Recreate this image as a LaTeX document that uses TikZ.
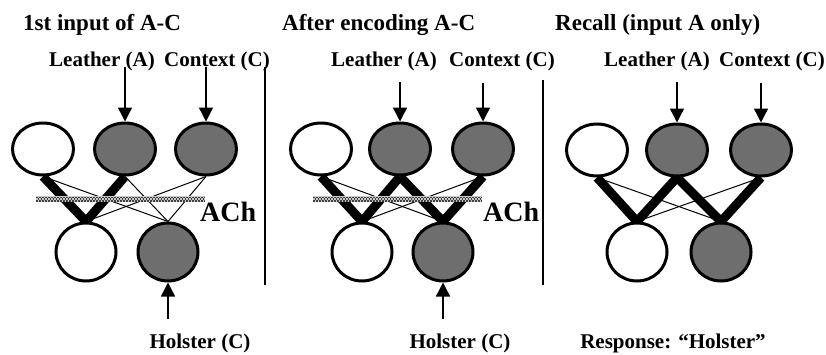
\documentclass[tikz,border=0pt]{standalone}
\usepackage{fontspec}
\setmainfont{Liberation Serif}
\usetikzlibrary{arrows.meta,shapes.geometric,backgrounds}

\definecolor{unitgray}{HTML}{6E6E6E}
\definecolor{dotgray}{HTML}{404040}
\definecolor{bandbase}{HTML}{C8C8C8}

\tikzset{
  unit/.style={ellipse, draw=black, line width=3pt, inner sep=0pt},
  topunit/.style={unit, minimum width=61pt, minimum height=52pt},
  botunit/.style={unit, minimum width=60pt, minimum height=58pt},
  active/.style={fill=unitgray},
  idle/.style={fill=white},
  strong/.style={line width=9pt},
  weak/.style={line width=1pt},
  inarrow/.style={line width=1.4pt, -{Triangle[width=14pt,length=14pt]}},
  divider/.style={line width=1.3pt},
  dotrow/.style={draw=dotgray, line width=1.5pt, dash pattern=on 1.5pt off 1.5pt},
  title/.style={font=\fontsize{23}{25}\selectfont\bfseries, anchor=base west, inner sep=0pt},
  lbl/.style={font=\fontsize{21}{23}\selectfont\bfseries, anchor=base, inner sep=0pt},
  achlbl/.style={font=\fontsize{28}{30}\selectfont\bfseries, anchor=base west, inner sep=0pt},
}

% dotted ACh band between two x positions
\newcommand{\achband}[2]{%
  \fill[bandbase] (#1,196) rectangle (#2,202);
  \draw[dotrow] (#1,197.25) -- (#2,197.25);
  \draw[dotrow, dash phase=1.5pt] (#1,199) -- (#2,199);
  \draw[dotrow] (#1,200.75) -- (#2,200.75);
}

\begin{document}
\begin{tikzpicture}[x=1pt, y=-1pt]
\useasboundingbox (0,0) rectangle (826,354);

% ---------- panel 1: first input ----------
\node[title] (t1) at (23,30) {1st input of A-C};
\node[lbl] (la1) at (102,66) {Leather (A)};
\node[lbl] (lc1) at (217,66) {Context (C)};
\node[topunit, idle]   (p1a) at (43,149) {};
\node[topunit, active] (p1b) at (125,149) {};
\node[topunit, active] (p1c) at (206,149) {};
\node[botunit, idle]   (p1d) at (86,252) {};
\node[botunit, active] (p1e) at (168,252) {};
\begin{pgfonlayer}{background}
  \draw[strong] (p1a.south) -- (p1d.north);
  \draw[strong] (p1b.south) -- (p1d.north);
  \draw[weak] (p1a.south) -- (p1e.north);
  \draw[weak] (p1b.south) -- (p1e.north);
  \draw[weak] (p1c.south) -- (p1d.north);
  \draw[weak] (p1c.south) -- (p1e.north);
\end{pgfonlayer}
\achband{36}{205}
\node[achlbl] (ach1) at (200,221) {ACh};
\coordinate (a1s) at (125,67);
\coordinate (c1s) at (206,67);
\coordinate (h1s) at (168,319);
\draw[inarrow] (a1s) -- (p1b.north);
\draw[inarrow] (c1s) -- (p1c.north);
\draw[inarrow] (h1s) -- (p1e.south);
\node[lbl] (lh1) at (200,348) {Holster (C)};
\coordinate (d1a) at (265,67);
\coordinate (d1b) at (265,285);
\draw[divider] (d1a) -- (d1b);

% ---------- panel 2: after encoding ----------
\node[title] (t2) at (282,30) {After encoding A-C};
\node[lbl] (la2) at (384,66) {Leather (A)};
\node[lbl] (lc2) at (502,66) {Context (C)};
\node[topunit, idle]   (p2a) at (321,149) {};
\node[topunit, active] (p2b) at (400,149) {};
\node[topunit, active] (p2c) at (483,149) {};
\node[botunit, idle]   (p2d) at (362,252) {};
\node[botunit, active] (p2e) at (443,252) {};
\begin{pgfonlayer}{background}
  \draw[strong] (p2a.south) -- (p2d.north);
  \draw[strong] (p2b.south) -- (p2d.north);
  \draw[strong] (p2b.south) -- (p2e.north);
  \draw[strong] (p2c.south) -- (p2e.north);
  \draw[weak] (p2a.south) -- (p2e.north);
  \draw[weak] (p2c.south) -- (p2d.north);
\end{pgfonlayer}
\achband{313}{482}
\node[achlbl] (ach2) at (483,221) {ACh};
\coordinate (a2s) at (400,82);
\coordinate (c2s) at (483,83);
\coordinate (h2s) at (443,319);
\draw[inarrow] (a2s) -- (p2b.north);
\draw[inarrow] (c2s) -- (p2c.north);
\draw[inarrow] (h2s) -- (p2e.south);
\node[lbl] (lh2) at (460,348) {Holster (C)};
\coordinate (d2a) at (543,80);
\coordinate (d2b) at (543,285);
\draw[divider] (d2a) -- (d2b);

% ---------- panel 3: recall ----------
\node[title] (t3) at (555,30) {Recall (input A only)};
\node[lbl] (la3) at (657,66) {Leather (A)};
\node[lbl] (lc3) at (772,66) {Context (C)};
\node[topunit, idle]   (p3a) at (597,150) {};
\node[topunit, active] (p3b) at (677,150) {};
\node[topunit, active] (p3c) at (761,150) {};
\node[botunit, idle]   (p3d) at (637,252) {};
\node[botunit, active] (p3e) at (721,252) {};
\begin{pgfonlayer}{background}
  \draw[strong] (p3a.south) -- (p3d.north);
  \draw[strong] (p3b.south) -- (p3d.north);
  \draw[strong] (p3b.south) -- (p3e.north);
  \draw[strong] (p3c.south) -- (p3e.north);
  \draw[weak] (p3a.south) -- (p3e.north);
  \draw[weak] (p3c.south) -- (p3d.north);
\end{pgfonlayer}
\coordinate (a3s) at (677,82);
\coordinate (c3s) at (761,83);
\draw[inarrow] (a3s) -- (p3b.north);
\draw[inarrow] (c3s) -- (p3c.north);
\node[lbl] (resp) at (673,348) {Response: “Holster”};
\end{tikzpicture}
\end{document}
